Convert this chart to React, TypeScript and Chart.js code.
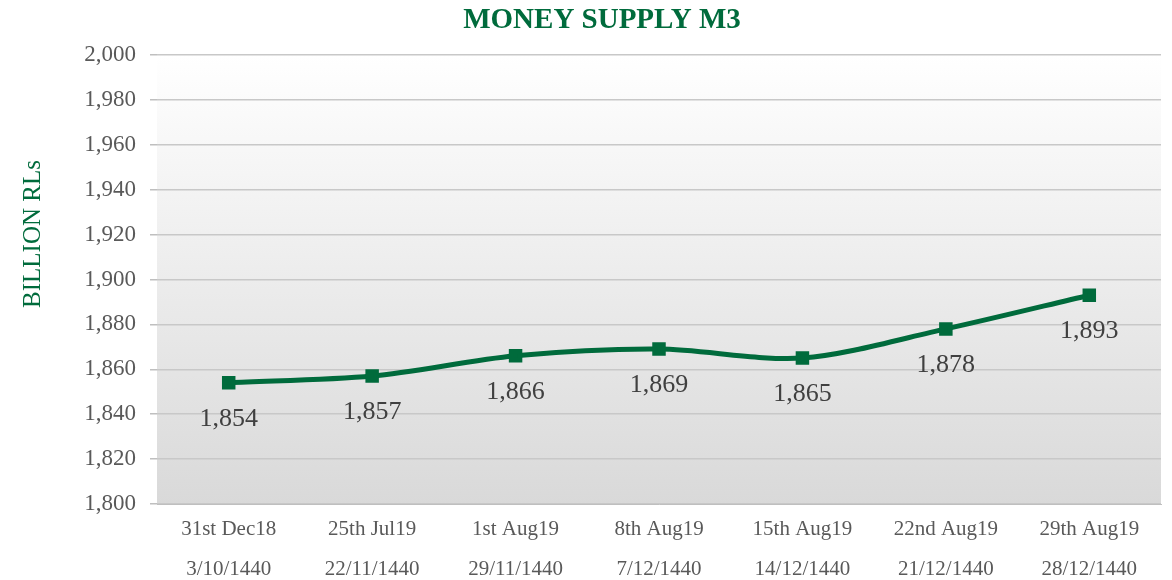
import React, { useEffect, useRef } from "react";
import { Chart, registerables } from "chart.js";

Chart.register(...registerables);

const gregorianDates = ["31st Dec18", "25th Jul19", "1st Aug19", "8th Aug19", "15th Aug19", "22nd Aug19", "29th Aug19"];
const hijriDates = ["3/10/1440", "22/11/1440", "29/11/1440", "7/12/1440", "14/12/1440", "21/12/1440", "28/12/1440"];
const m3Values = [1854, 1857, 1866, 1869, 1865, 1878, 1893];
const yMin = 1800;
const yMax = 2000;
const yStep = 20;
const chartTitle = "MONEY SUPPLY M3";
const yAxisTitle = "BILLION RLs";

const GREEN = "#006B3C";
const SERIF = "'Liberation Serif', 'Times New Roman', serif";

const bgPlugin = {
  id: "bgGradient",
  beforeDraw(chart: any) {
    const { ctx, chartArea } = chart;
    if (!chartArea) return;
    const g = ctx.createLinearGradient(0, chartArea.top, 0, chartArea.bottom);
    g.addColorStop(0, "#ffffff");
    g.addColorStop(1, "#d9d9d9");
    ctx.save();
    ctx.fillStyle = g;
    ctx.fillRect(chartArea.left, chartArea.top, chartArea.right - chartArea.left, chartArea.bottom - chartArea.top);
    ctx.restore();
  },
};

const textPlugin = {
  id: "titles",
  afterDraw(chart: any) {
    const { ctx } = chart;
    ctx.save();
    ctx.fillStyle = GREEN;
    ctx.textAlign = "center";
    ctx.textBaseline = "middle";
    ctx.font = `bold 29px ${SERIF}`;
    ctx.fillText(chartTitle, 602, 21);
    ctx.translate(33, 234);
    ctx.rotate(-Math.PI / 2);
    ctx.font = `25px ${SERIF}`;
    ctx.fillText(yAxisTitle, 0, 0);
    ctx.restore();
  },
};

const labelPlugin = {
  id: "pointLabels",
  afterDatasetsDraw(chart: any) {
    const { ctx } = chart;
    const meta = chart.getDatasetMeta(0);
    const data = chart.data.datasets[0].data as number[];
    ctx.save();
    ctx.font = `26px ${SERIF}`;
    ctx.fillStyle = "#404040";
    ctx.textAlign = "center";
    ctx.textBaseline = "middle";
    meta.data.forEach((pt: any, i: number) => {
      ctx.fillText(data[i].toLocaleString("en-US"), pt.x, pt.y + 36);
    });
    ctx.restore();
  },
};

export default function App() {
  const ref = useRef<HTMLCanvasElement>(null);
  useEffect(() => {
    if (!ref.current) return;
    const chart = new Chart(ref.current, {
      type: "line",
      data: {
        labels: gregorianDates.map((g, i) => [g, hijriDates[i]]),
        datasets: [
          {
            data: m3Values,
            borderColor: GREEN,
            backgroundColor: GREEN,
            borderWidth: 5,
            pointStyle: "rect",
            pointRadius: 6,
            pointHoverRadius: 6,
            tension: 0.3,
            fill: false,
          },
        ],
      },
      options: {
        animation: false,
        responsive: false,
        maintainAspectRatio: false,
        layout: { padding: { top: 55, right: 4, bottom: 0, left: 0 } },
        plugins: {
          legend: { display: false },
          tooltip: { enabled: false },
          title: { display: false },
        },
        scales: {
          x: {
            offset: true,
            grid: { display: false, drawTicks: false },
            border: { display: true, color: "#bfbfbf", width: 1 },
            afterFit: (s: any) => { s.height = 76; },
            ticks: {
              color: "#595959",
              font: { family: SERIF, size: 21, lineHeight: 1.9 },
              padding: 6,
              maxRotation: 0,
            },
          },
          y: {
            min: yMin,
            max: yMax,
            afterFit: (s: any) => { s.width = 157; },
            ticks: {
              stepSize: yStep,
              color: "#595959",
              font: { family: SERIF, size: 23 },
              padding: 14,
              callback: (v: any) => Number(v).toLocaleString("en-US"),
            },
            grid: { color: "#c8c8c8", lineWidth: 1.5, tickLength: 7, tickColor: "#bfbfbf" },
            border: { display: false },
            title: { display: false },
          },
        },
      },
      plugins: [bgPlugin, labelPlugin, textPlugin],
    });
    return () => chart.destroy();
  }, []);
  return (
    <div style={{ position: "fixed", left: 0, top: 0, width: 1172, height: 580, background: "#fff" }}>
      <canvas ref={ref} width={1172} height={580} style={{ display: "block" }} />
    </div>
  );
}
